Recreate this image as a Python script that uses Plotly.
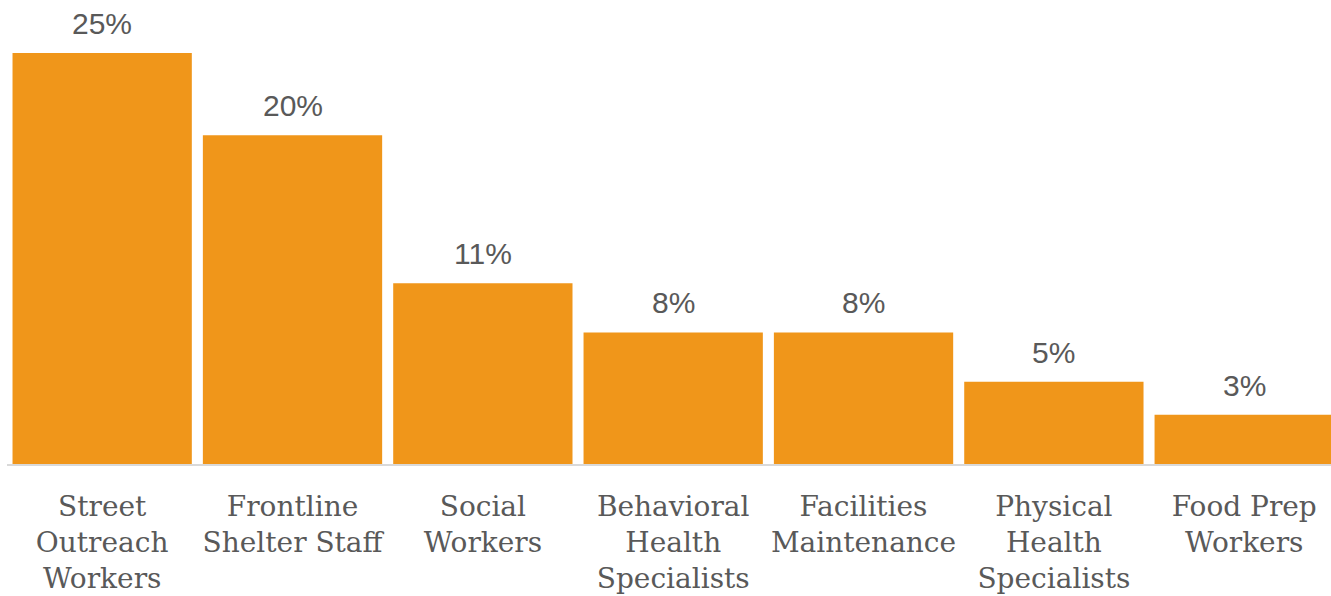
import plotly.graph_objects as go

categories = [
    "Street<br>Outreach<br>Workers",
    "Frontline<br>Shelter Staff",
    "Social<br>Workers",
    "Behavioral<br>Health<br>Specialists",
    "Facilities<br>Maintenance",
    "Physical<br>Health<br>Specialists",
    "Food Prep<br>Workers",
]
shares = [25, 20, 11, 8, 8, 5, 3]
share_labels = [f"{v}%" for v in shares]

BAR_COLOR = "#F0961A"
TEXT_COLOR = "#595959"

x_idx = list(range(len(categories)))

fig = go.Figure(
    go.Bar(
        x=x_idx,
        y=shares,
        marker=dict(color=BAR_COLOR, line=dict(width=0)),
        hoverinfo="skip",
    )
)

# value labels above each bar
for i, (v, t) in enumerate(zip(shares, share_labels)):
    fig.add_annotation(
        x=i, y=v, text=t, showarrow=False,
        xanchor="center", yanchor="bottom", yshift=11,
        font=dict(family="Liberation Sans, Arial, sans-serif", size=30, color=TEXT_COLOR),
    )

fig.update_layout(
    width=1331, height=596,
    margin=dict(l=7, r=0, t=0, b=132),
    paper_bgcolor="white", plot_bgcolor="white",
    bargap=0.058,
    showlegend=False,
    xaxis=dict(
        range=[-0.5, 6.456],
        tickmode="array", tickvals=x_idx, ticktext=categories,
        showgrid=False, zeroline=False,
        showline=True, linecolor="#D9D9D9", linewidth=2,
        ticks="", ticklabelstandoff=16,
        tickfont=dict(family="DejaVu Serif, serif", size=28, color=TEXT_COLOR),
    ),
    yaxis=dict(
        range=[0, 28.22], visible=False, showgrid=False, zeroline=False,
    ),
)

fig.write_html("out.html")
